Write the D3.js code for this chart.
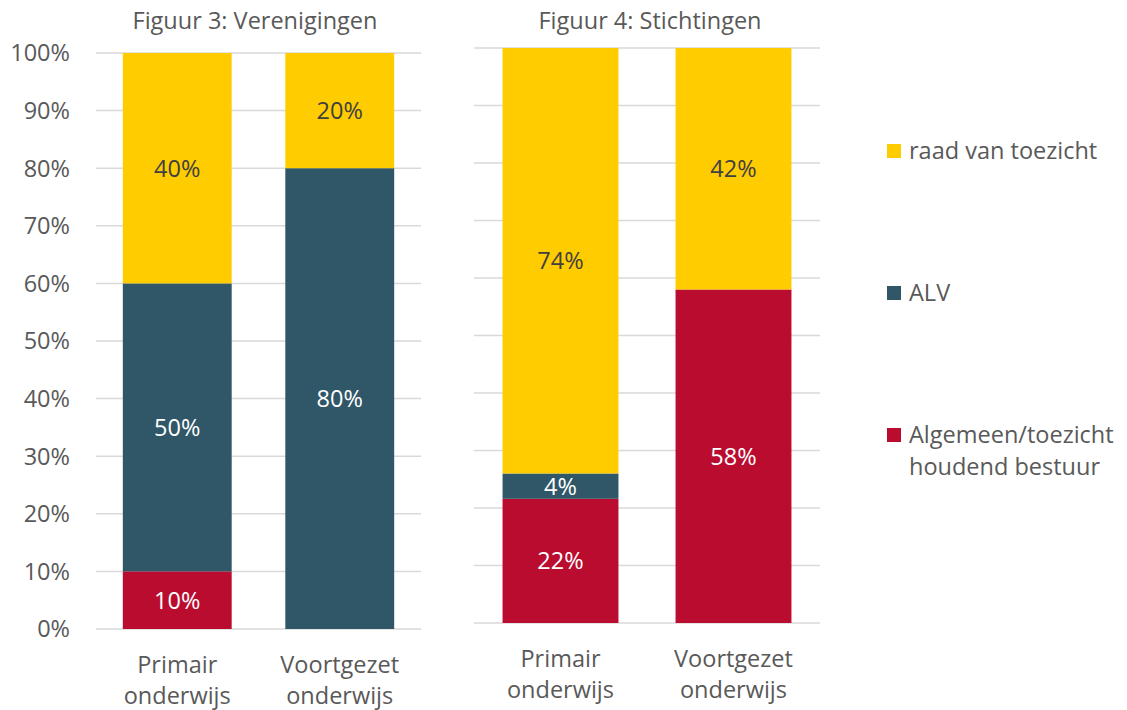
<!DOCTYPE html>
<html>
<head>
<meta charset="utf-8">
<script src="https://cdn.jsdelivr.net/npm/d3@7"></script>
<style>
  body { margin: 0; background: #fff; }
  svg { font-family: "Open Sans", sans-serif; }
</style>
</head>
<body>
<svg id="chart" width="1127" height="710"></svg>
<script>
// Data
const categories = ["Primair onderwijs", "Voortgezet onderwijs"];
const seriesNames = ["Algemeen/toezicht houdend bestuur", "ALV", "raad van toezicht"];
const seriesColors = ["#BA0C2F", "#2F5767", "#FFCC00"];
const labelColors = ["#ffffff", "#ffffff", "#404040"];

// Figuur 3: Verenigingen (share per category)
const verenigingenBestuur = [0.10, 0.00];
const verenigingenALV = [0.50, 0.80];
const verenigingenRvT = [0.40, 0.20];

// Figuur 4: Stichtingen
const stichtingenBestuur = [0.216, 0.58];
const stichtingenALV = [0.044, 0.00];
const stichtingenRvT = [0.74, 0.42];

const yTicks = [0, 0.1, 0.2, 0.3, 0.4, 0.5, 0.6, 0.7, 0.8, 0.9, 1.0];

const textColor = "#595959";
const gridColor = "#d9d9d9";
const fontSize = 23.5;
const svg = d3.select("#chart");

function buildRows(bestuur, alv, rvt) {
  return categories.map((c, i) => ({ cat: c, values: [bestuur[i], alv[i], rvt[i]] }));
}

function drawPanel(opts) {
  const { rows, title, x0, x1, yBottom, yTop, showAxis, catY, titleX } = opts;
  const x = d3.scaleBand().domain(categories).range([x0, x1])
    .paddingInner(0.33).paddingOuter(0.165);
  const y = d3.scaleLinear().domain([0, 1]).range([yBottom, yTop]);
  const g = svg.append("g");

  // gridlines
  g.selectAll("line.grid").data(yTicks).enter().append("line")
    .attr("x1", x0).attr("x2", x1)
    .attr("y1", d => y(d)).attr("y2", d => y(d))
    .attr("stroke", gridColor).attr("stroke-width", 1.5);

  if (showAxis) {
    g.selectAll("text.tick").data(yTicks).enter().append("text")
      .attr("x", 70).attr("y", d => y(d))
      .attr("dy", "0.36em")
      .attr("text-anchor", "end")
      .attr("font-size", fontSize).attr("fill", textColor)
      .text(d => d3.format(".0%")(d));
  }

  const stack = d3.stack().keys([0, 1, 2]).value((d, k) => d.values[k]);
  const layers = stack(rows);

  layers.forEach((layer, k) => {
    layer.forEach(seg => {
      const v = seg[1] - seg[0];
      if (v <= 0) return;
      g.append("rect")
        .attr("x", x(seg.data.cat))
        .attr("width", x.bandwidth())
        .attr("y", y(seg[1]))
        .attr("height", y(seg[0]) - y(seg[1]))
        .attr("fill", seriesColors[k]);
      g.append("text")
        .attr("x", x(seg.data.cat) + x.bandwidth() / 2)
        .attr("y", y((seg[0] + seg[1]) / 2))
        .attr("dy", "0.36em")
        .attr("text-anchor", "middle")
        .attr("font-size", fontSize)
        .attr("fill", labelColors[k])
        .text(Math.round(v * 100) + "%");
    });
  });

  // category labels
  categories.forEach(c => {
    const parts = c.split(" ");
    const t = g.append("text")
      .attr("x", x(c) + x.bandwidth() / 2)
      .attr("y", catY)
      .attr("text-anchor", "middle")
      .attr("font-size", fontSize).attr("fill", textColor);
    parts.forEach((p, i) => {
      t.append("tspan").attr("x", x(c) + x.bandwidth() / 2)
        .attr("dy", i === 0 ? 0 : 31).text(p);
    });
  });

  g.append("text")
    .attr("x", titleX).attr("y", 29)
    .attr("text-anchor", "middle")
    .attr("font-size", fontSize).attr("fill", textColor)
    .text(title);
}

drawPanel({
  rows: buildRows(verenigingenBestuur, verenigingenALV, verenigingenRvT),
  title: "Figuur 3: Verenigingen",
  x0: 96, x1: 421, yBottom: 629, yTop: 53, showAxis: true,
  catY: 673, titleX: 255
});

drawPanel({
  rows: buildRows(stichtingenBestuur, stichtingenALV, stichtingenRvT),
  title: "Figuur 4: Stichtingen",
  x0: 474, x1: 820, yBottom: 623, yTop: 48, showAxis: false,
  catY: 667, titleX: 650
});

// Legend
const legendItems = [
  { k: 2, y: 151, lines: ["raad van toezicht"] },
  { k: 1, y: 293, lines: ["ALV"] },
  { k: 0, y: 435, lines: ["Algemeen/toezicht", "houdend bestuur"] }
];
const legend = svg.append("g");
legendItems.forEach(item => {
  legend.append("rect")
    .attr("x", 887).attr("y", item.y - 7)
    .attr("width", 14).attr("height", 14)
    .attr("fill", seriesColors[item.k]);
  const t = legend.append("text")
    .attr("x", 909).attr("y", item.y)
    .attr("font-size", fontSize).attr("fill", textColor);
  item.lines.forEach((l, i) => {
    t.append("tspan").attr("x", 909).attr("dy", i === 0 ? "0.36em" : 32).text(l);
  });
});
</script>
</body>
</html>
